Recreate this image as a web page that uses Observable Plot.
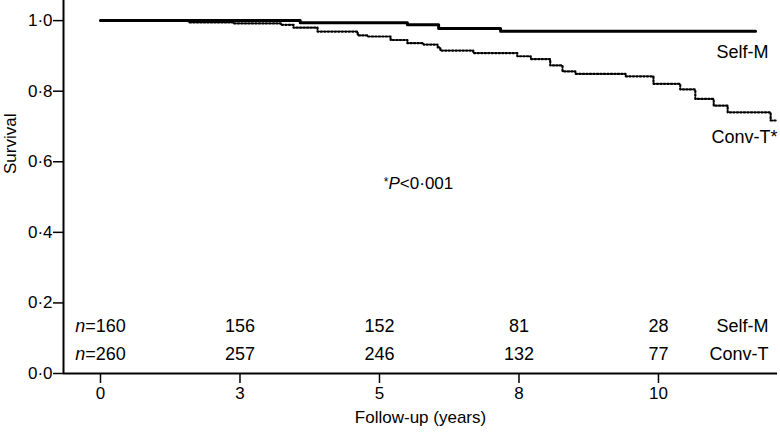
<!DOCTYPE html>
<html><head><meta charset="utf-8">
<script src="https://cdn.jsdelivr.net/npm/d3@7"></script>
<script src="https://cdn.jsdelivr.net/npm/@observablehq/plot@0.6"></script>
<style>
body{margin:0;background:#fff}
svg{font-family:"Liberation Sans",Arial,Helvetica,sans-serif}
</style>
</head><body><div id="chart"></div>
<script>
// Kaplan–Meier steps (time in years, survival)
const selfTime = [0, 3.58, 5.50, 6.06, 7.17, 11.74];
const selfSurv = [1.0, 0.994, 0.988, 0.978, 0.970, 0.970];
const convTime = [0, 1.58, 2.38, 3.23, 3.46, 3.89, 4.61, 4.78, 5.20, 5.50, 5.79, 6.04, 6.09, 6.68, 7.47, 7.71, 8.06, 8.28, 8.51, 9.41, 9.91, 10.39, 10.66, 10.99, 11.24, 12.01, 12.13];
const convSurv = [1.0, 0.995, 0.992, 0.988, 0.980, 0.969, 0.958, 0.955, 0.945, 0.936, 0.932, 0.924, 0.915, 0.908, 0.899, 0.891, 0.873, 0.856, 0.849, 0.842, 0.821, 0.805, 0.778, 0.759, 0.740, 0.717, 0.717];

const xTicks = [0, 2.5, 5, 7.5, 10];
const xTickLabels = ["0", "3", "5", "8", "10"];
const yTicks = [0, 0.2, 0.4, 0.6, 0.8, 1.0];
const yTickLabels = ["0·0", "0·2", "0·4", "0·6", "0·8", "1·0"];

const atRiskSelf = [160, 156, 152, 81, 28];
const atRiskConv = [260, 257, 246, 132, 77];
const groupNames = ["Self-M", "Conv-T"];

const selfData = selfTime.map((t, i) => ({t, s: selfSurv[i]}));
const convData = convTime.map((t, i) => ({t, s: convSurv[i]}));
const riskRows = [
  ...atRiskSelf.map((n, i) => ({t: xTicks[i], row: 0.133, label: i === 0 ? `n=${n}` : `${n}`})),
  ...atRiskConv.map((n, i) => ({t: xTicks[i], row: 0.054, label: i === 0 ? `n=${n}` : `${n}`}))
];

const chart = Plot.plot({
  width: 780,
  height: 433,
  marginLeft: 63,
  marginRight: 3,
  marginTop: 0,
  marginBottom: 60,
  style: {fontFamily: '"Liberation Sans", Arial, Helvetica, sans-serif', fontSize: "17px", color: "#000", background: "#fff"},
  x: {domain: [-0.663, 12.133]},
  y: {domain: [0, 1.057]},
  marks: [
    Plot.axisX({ticks: xTicks, tickFormat: (d) => xTickLabels[xTicks.indexOf(d)], tickSize: 10, tickPadding: 3, strokeWidth: 1.5, fontSize: 17, label: null}),
    Plot.axisY({ticks: yTicks, tickFormat: d => yTickLabels[yTicks.indexOf(d)], tickSize: 10, tickPadding: 1, strokeWidth: 1.5, fontSize: 17, label: null}),
    Plot.ruleX([-0.663], {stroke: "#000", strokeWidth: 2}),
    Plot.ruleY([0], {stroke: "#000", strokeWidth: 2}),
    Plot.line(convData, {x: "t", y: "s", curve: "step-after", stroke: "#000", strokeWidth: 2.2, strokeDasharray: "1.5,2"}),
    Plot.line(selfData, {x: "t", y: "s", curve: "step-after", stroke: "#000", strokeWidth: 3}),
    Plot.text(riskRows, {x: "t", y: "row", text: "label", fontSize: 18, fill: "#000", className: "risk"}),
    Plot.text(groupNames, {frameAnchor: "right", y: [0.133, 0.054], text: d => d, textAnchor: "end", dx: -9, fontSize: 18, fill: "#000"}),
    Plot.text(["Self-M"], {frameAnchor: "right", y: [0.910], text: d => d, textAnchor: "end", dx: -9, fontSize: 18, fill: "#000"}),
    Plot.text(["Conv-T*"], {frameAnchor: "right", y: [0.669], text: d => d, textAnchor: "end", dx: 0, fontSize: 18, fill: "#000"}),
    Plot.text(["*P<0·001"], {x: [5.70], y: [0.538], text: d => d, fontSize: 17, fill: "#000", className: "pval"}),
    Plot.text(["Follow-up (years)"], {frameAnchor: "bottom", dy: 49, text: d => d, fontSize: 17, fill: "#000"}),
    Plot.text(["Survival"], {frameAnchor: "left", rotate: -90, dx: -53, dy: -13, text: d => d, fontSize: 17, fill: "#000"})
  ]
});
document.getElementById("chart").appendChild(chart);

// italic n in "n=160" / "n=260"
chart.querySelectorAll("g.risk text").forEach(el => {
  const s = el.textContent;
  if (s.startsWith("n=")) {
    el.textContent = "";
    const ns = "http://www.w3.org/2000/svg";
    const a = document.createElementNS(ns, "tspan");
    a.setAttribute("font-style", "italic");
    a.textContent = "n";
    const b = document.createElementNS(ns, "tspan");
    b.textContent = s.slice(1);
    el.appendChild(a); el.appendChild(b);
  }
});
// superscript * and italic P
chart.querySelectorAll("g.pval text").forEach(el => {
  const ns = "http://www.w3.org/2000/svg";
  el.textContent = "";
  const a = document.createElementNS(ns, "tspan");
  a.setAttribute("font-size", "12"); a.setAttribute("dy", "-3"); a.textContent = "*";
  const b = document.createElementNS(ns, "tspan");
  b.setAttribute("font-style", "italic"); b.setAttribute("dy", "3"); b.textContent = "P";
  const c = document.createElementNS(ns, "tspan");
  c.textContent = "<0·001";
  el.appendChild(a); el.appendChild(b); el.appendChild(c);
});
</script>
</body></html>
